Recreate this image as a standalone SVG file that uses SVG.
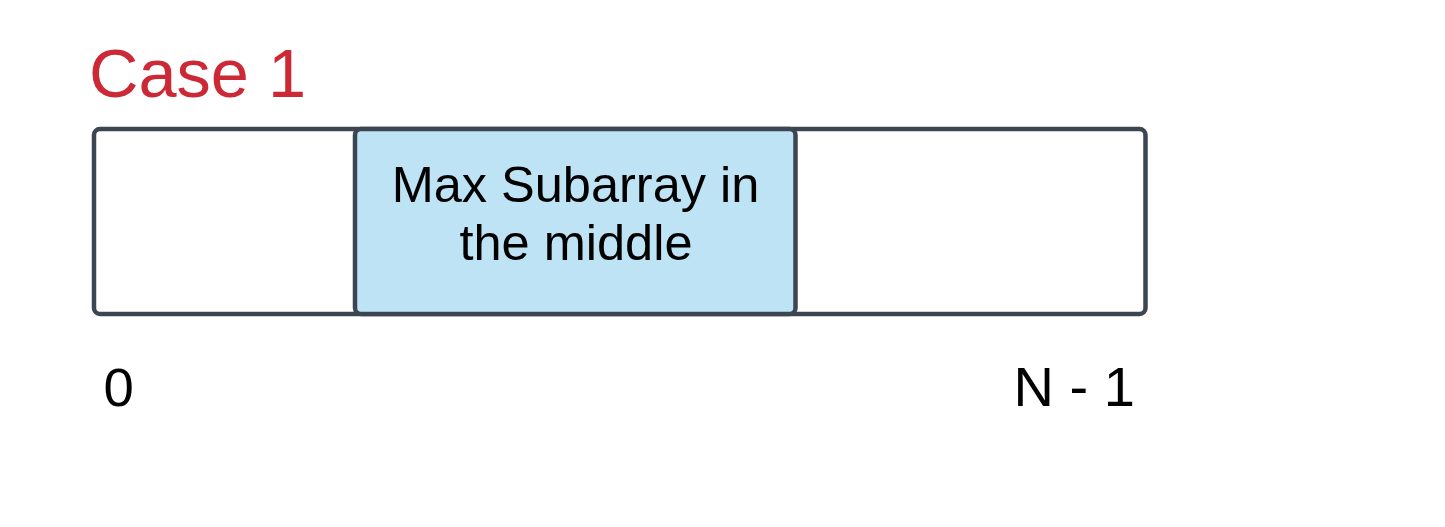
<svg xmlns="http://www.w3.org/2000/svg" width="1445" height="527" viewBox="0 0 1445 527">
<style>
.box{stroke:#3c4653;stroke-width:4.5;}
.t{font-family:"Liberation Sans",Arial,sans-serif;fill:#000;}
</style>
<rect width="1445" height="527" fill="#fff"/>
<text id="title" class="t" x="89" y="96.5" font-size="68.5" style="fill:#cc2936">Case 1</text>
<g id="array">
<rect class="box" x="94" y="129" width="1051.5" height="185" rx="6" fill="#fff"/>
</g>
<g id="middle">
<rect class="box" x="355" y="129" width="440.5" height="185" rx="6" fill="#bde3f5"/>
<text class="t" x="575.5" y="202" font-size="50.5" text-anchor="middle">Max Subarray in</text>
<text class="t" x="576" y="260" font-size="50.5" text-anchor="middle">the middle</text>
</g>
<g id="connectors"></g>
<text id="lbl0" class="t" x="103.5" y="406" font-size="54.5">0</text>
<text id="lblN" class="t" x="1013.5" y="406" font-size="56">N - 1</text>
</svg>
